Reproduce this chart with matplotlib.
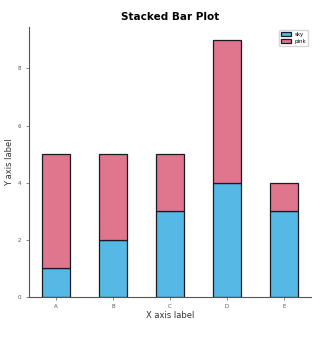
import matplotlib
matplotlib.use("Agg")
import matplotlib.pyplot as plt
import numpy as np

categories = ["A", "B", "C", "D", "E"]
sky = [1, 2, 3, 4, 3]
pink = [4, 3, 2, 5, 1]

SKY, PINK = "#56b8e4", "#e0768e"

fig = plt.figure(figsize=(3.34, 3.42), dpi=100)
ax = fig.add_axes([0.087, 0.132, 0.844, 0.789])

x = np.arange(len(categories))
ax.bar(x, sky, 0.5, color=SKY, edgecolor="#1a1a22", linewidth=0.9, label="sky")
ax.bar(x, pink, 0.5, bottom=sky, color=PINK, edgecolor="#1a1a22", linewidth=0.9, label="pink")

ax.set_xticks(x)
ax.set_xticklabels(categories)
ax.set_yticks([0, 2, 4, 6, 8])
ax.tick_params(labelsize=4, colors="#555555", length=2, width=0.5)
ax.set_xlabel("X axis label", fontsize=6, color="#333333", labelpad=1)
ax.set_ylabel("Y axis label", fontsize=6, color="#333333", labelpad=3)
ax.set_title("Stacked Bar Plot", fontsize=7.5, fontweight="bold", pad=5)
for s in ["top", "right"]:
    ax.spines[s].set_visible(False)
for s in ["left", "bottom"]:
    ax.spines[s].set_color("#555555")
    ax.spines[s].set_linewidth(0.8)
ax.legend(fontsize=4, loc="upper right", handlelength=1.8, borderpad=0.4,
          labelspacing=0.3, handletextpad=0.6)

fig.savefig("out.png", dpi=100)
